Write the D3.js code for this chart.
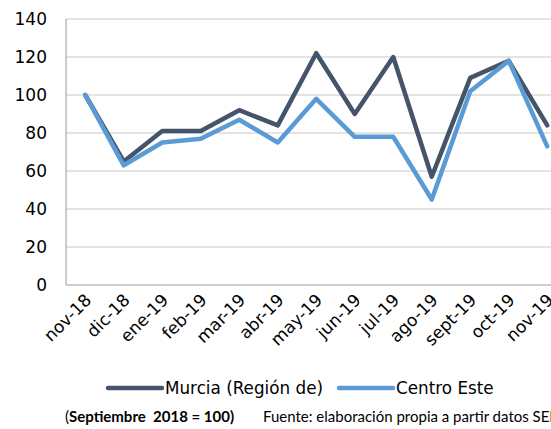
<!DOCTYPE html>
<html><head><meta charset="utf-8">
<script src="https://cdn.jsdelivr.net/npm/d3@7"></script>
<style>body{margin:0;background:#fff;} svg{display:block;}</style>
</head><body>
<script>
const categories = ["nov-18","dic-18","ene-19","feb-19","mar-19","abr-19","may-19","jun-19","jul-19","ago-19","sept-19","oct-19","nov-19"];
const murcia = [100,65,81,81,92,84,122,90,120,57,109,118,84];
const centroEste = [100,63,75,77,87,75,98,78,78,45,102,118,73];
const yTicks = [0,20,40,60,80,100,120,140];
const seriesNames = ["Murcia (Región de)","Centro Este"];
const colors = ["#44546A","#5B9BD5"];

(function(){
const W=551,H=429;
const svg=d3.select("body").append("svg").attr("width",W).attr("height",H);
const pLeft=66, pTop=19, pBottom=285, step=38.5;
const x=d3.scalePoint().domain(categories).range([pLeft+step/2, pLeft+step*categories.length-step/2]);
const y=d3.scaleLinear().domain([0,140]).range([pBottom,pTop]);
const font="'DejaVu Sans', sans-serif";

svg.append("g").selectAll("line").data(yTicks.filter(d=>d>0)).join("line")
  .attr("x1",pLeft).attr("x2",W).attr("y1",d=>y(d)).attr("y2",d=>y(d))
  .attr("stroke","#c8c8c8").attr("stroke-width",1);
svg.append("line").attr("x1",pLeft).attr("x2",pLeft).attr("y1",pTop).attr("y2",pBottom).attr("stroke","#9a9a9a");
svg.append("line").attr("x1",pLeft).attr("x2",W).attr("y1",pBottom).attr("y2",pBottom).attr("stroke","#9a9a9a");

svg.append("g").selectAll("text").data(yTicks).join("text")
  .attr("x",47).attr("y",d=>y(d)).attr("dy","0.35em").attr("text-anchor","end")
  .attr("font-family",font).attr("font-size",17).attr("fill","#000").text(d=>d);

svg.append("g").selectAll("text").data(categories).join("text")
  .attr("text-anchor","end").attr("font-family",font).attr("font-size",17).attr("fill","#000")
  .attr("transform",d=>`translate(${x(d)+3},${pBottom+12}) rotate(-45)`).attr("dy","0.35em").text(d=>d);

const line=d3.line().x((d,i)=>x(categories[i])).y(d=>y(d));
[murcia,centroEste].forEach((s,k)=>{
  svg.append("path").datum(s).attr("d",line).attr("fill","none")
    .attr("stroke",colors[k]).attr("stroke-width",4.5).attr("stroke-linejoin","round").attr("stroke-linecap","round");
});

const leg=[{x1:108,x2:162,tx:165},{x1:339,x2:393,tx:396}];
leg.forEach((l,k)=>{
  svg.append("line").attr("x1",l.x1).attr("x2",l.x2).attr("y1",388).attr("y2",388)
    .attr("stroke",colors[k]).attr("stroke-width",4.5).attr("stroke-linecap","round");
  svg.append("text").attr("x",l.tx).attr("y",388).attr("dy","0.35em").attr("font-family",font)
    .attr("font-size",16.8).attr("fill","#000").text(seriesNames[k]);
});

const ff="Lato, 'Open Sans', sans-serif";
const fn=svg.append("text").attr("x",65).attr("y",422).attr("font-family",ff).attr("font-size",15).attr("fill","#000").style("white-space","pre");
fn.append("tspan").text("(");
fn.append("tspan").attr("font-weight","bold").text("Septiembre  2018 = 100)");
svg.append("text").attr("x",263).attr("y",422).attr("font-family",ff).attr("font-size",15).attr("fill","#000")
  .text("Fuente: elaboración propia a partir datos SEPE");
})();
</script>
</body></html>
